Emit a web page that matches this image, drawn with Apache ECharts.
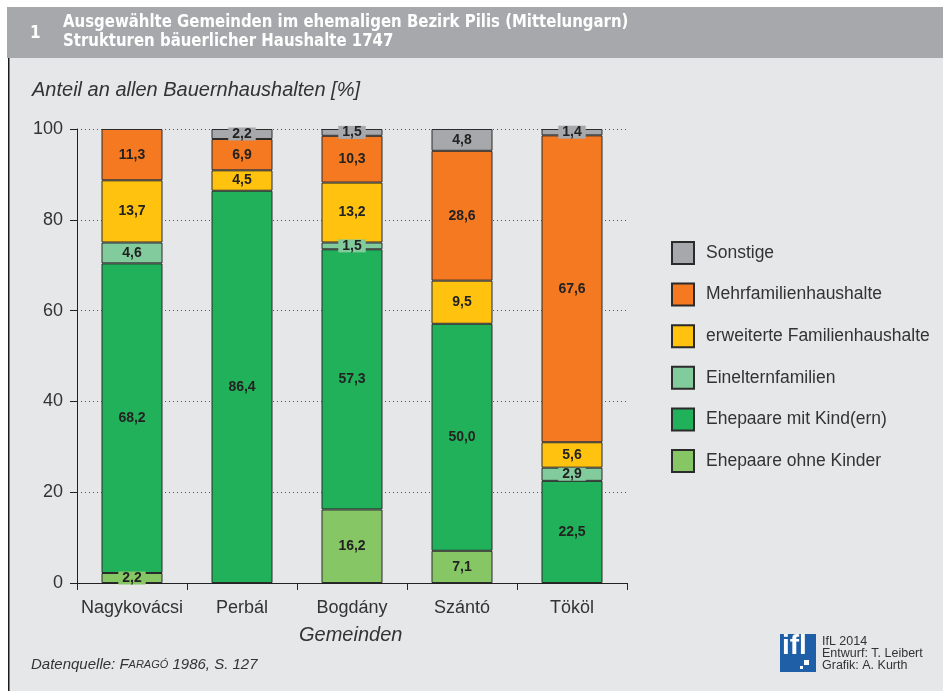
<!DOCTYPE html>
<html>
<head>
<meta charset="utf-8">
<script src="https://cdn.jsdelivr.net/npm/echarts@6/dist/echarts.min.js"></script>
<style>
  html, body { margin: 0; padding: 0; background: #ffffff; }
  #chart { width: 943px; height: 691px; }
</style>
</head>
<body>
<div id="chart"></div>
<script>
// Gemeinden (x-Achse)
const gemeinden = ['Nagykovácsi', 'Perbál', 'Bogdány', 'Szántó', 'Tököl'];

// Anteile in %, Stapel von unten nach oben
const ohneKinder   = [2.2, null, 16.2, 7.1, null];
const mitKindern   = [68.2, 86.4, 57.3, 50.0, 22.5];
const eineltern    = [4.6, null, 1.5, null, 2.9];
const erweiterte   = [13.7, 4.5, 13.2, 9.5, 5.6];
const mehrfamilien = [11.3, 6.9, 10.3, 28.6, 67.6];
const sonstige     = [null, 2.2, 1.5, 4.8, 1.4];

const yTicks = [0, 20, 40, 60, 80, 100];

const FONT = 'Liberation Sans, Arial, sans-serif';
const TEXT = '#333333';

const reihen = [
  { name: 'Ehepaare ohne Kinder', data: ohneKinder, color: '#86c665' },
  { name: 'Ehepaare mit Kind(ern)', data: mitKindern, color: '#21b15a' },
  { name: 'Einelternfamilien', data: eineltern, color: '#82cb9c' },
  { name: 'erweiterte Familienhaushalte', data: erweiterte, color: '#ffc20e' },
  { name: 'Mehrfamilienhaushalte', data: mehrfamilien, color: '#f47920' },
  { name: 'Sonstige', data: sonstige, color: '#a7a8ab' }
];

const chart = echarts.init(document.getElementById('chart'));

const series = reihen.map(r => ({
  name: r.name,
  type: 'bar',
  stack: 'gesamt',
  barWidth: 61,
  itemStyle: { color: r.color, borderColor: '#2b2b2b', borderWidth: 1 },
  label: {
    show: true,
    position: 'inside',
    fontFamily: FONT,
    fontWeight: 'bold',
    fontSize: 14,
    color: '#222222',
    formatter: p => p.value == null ? '' : p.value.toFixed(1).replace('.', ',')
  },
  // kleine Segmente: Beschriftung deckt die Kante ab
  data: r.data.map(v => (v != null && v < 3)
    ? { value: v, label: { backgroundColor: r.color, padding: [0, 4], lineHeight: 13 } }
    : v)
}));

const option = {
  animation: false,
  backgroundColor: '#ffffff',
  grid: { left: 77, right: 316, top: 129, bottom: 108 },
  legend: {
    orient: 'vertical',
    left: 666,
    top: 236,
    icon: 'rect',
    itemWidth: 22,
    itemHeight: 22,
    itemGap: 17.6,
    textStyle: { fontFamily: FONT, fontSize: 17.5, color: TEXT, padding: [0, 0, 0, 7] },
    data: reihen.map(r => r.name).reverse()
  },
  xAxis: {
    type: 'category',
    data: gemeinden,
    axisLine: { lineStyle: { color: '#222', width: 1 } },
    axisTick: { show: true, length: 7, lineStyle: { color: '#222' } },
    axisLabel: { interval: 0, fontFamily: FONT, fontSize: 18, color: TEXT, margin: 16 }
  },
  yAxis: {
    type: 'value',
    min: yTicks[0],
    max: yTicks[yTicks.length - 1],
    interval: 20,
    axisLine: { show: true, lineStyle: { color: '#222', width: 1 } },
    axisTick: { show: true, length: 7, lineStyle: { color: '#222' } },
    axisLabel: { fontFamily: FONT, fontSize: 18, color: TEXT, margin: 14 },
    splitLine: { show: true, lineStyle: { color: '#555', type: [1, 3], width: 1 } }
  },
  graphic: [
    // Kopfzeile
    { type: 'rect', z: -10, shape: { x: 7, y: 7, width: 936, height: 51 }, style: { fill: '#a7a8ab' } },
    { type: 'rect', z: -10, shape: { x: 8, y: 58, width: 935, height: 633 }, style: { fill: '#e6e7e9' } },
    { type: 'rect', z: -9, shape: { x: 8, y: 58, width: 1.5, height: 633 }, style: { fill: '#1a1a1a' } },
    { type: 'text', x: 30, y: 24, scaleX: 0.85, style: { text: '1', fill: '#fff', font: 'bold 18px "DejaVu Sans", sans-serif' } },
    { type: 'text', x: 63, y: 13, scaleX: 0.83, style: {
      text: 'Ausgewählte Gemeinden im ehemaligen Bezirk Pilis (Mittelungarn)\nStrukturen bäuerlicher Haushalte 1747',
      fill: '#fff', lineHeight: 19,
      font: 'bold 18px "DejaVu Sans", sans-serif' } },
    // Achsentitel
    { type: 'text', left: 32, top: 80, style: { text: 'Anteil an allen Bauernhaushalten [%]', fill: TEXT, font: 'italic 20px "Liberation Sans", Arial, sans-serif' } },
    { type: 'text', left: 299, top: 625, style: { text: 'Gemeinden', fill: TEXT, font: 'italic 20px "Liberation Sans", Arial, sans-serif' } },
    // Quelle
    { type: 'text', left: 31, top: 657, style: {
      text: '{a|Datenquelle: F}{b|ARAGÓ}{a| 1986, S. 127}',
      rich: {
        a: { fontFamily: FONT, fontStyle: 'italic', fontSize: 15, fill: TEXT },
        b: { fontFamily: FONT, fontStyle: 'italic', fontSize: 11, fill: TEXT }
      } } },
    // IfL-Logo
    { type: 'rect', shape: { x: 780, y: 634, width: 36, height: 38 }, style: { fill: '#1f5fa8' } },
    { type: 'text', x: 782, y: 632, style: { text: 'ifl', fill: '#fff', font: 'bold 28px "Liberation Sans", Arial, sans-serif' } },
    { type: 'rect', shape: { x: 804, y: 660, width: 5, height: 5 }, style: { fill: '#fff' } },
    { type: 'rect', shape: { x: 800, y: 666, width: 3, height: 3 }, style: { fill: '#fff' } },
    { type: 'text', left: 822, top: 635, style: {
      text: 'IfL 2014\nEntwurf: T. Leibert\nGrafik: A. Kurth',
      fill: TEXT, lineHeight: 12, font: '12.5px "Liberation Sans", Arial, sans-serif' } }
  ],
  series: series
};

chart.setOption(option);
</script>
</body>
</html>
